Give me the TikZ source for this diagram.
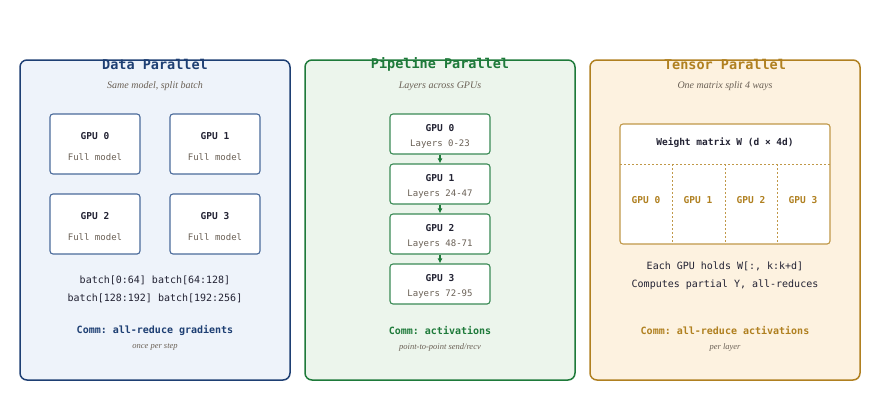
\documentclass[tikz,border=0pt]{standalone}
\usepackage{fontspec}
\usetikzlibrary{arrows.meta}
\setmainfont{Liberation Serif}
\setmonofont{DejaVu Sans Mono}
\begin{document}
\definecolor{bB}{HTML}{1E3F73}\definecolor{bF}{HTML}{EEF3FA}\definecolor{bI}{HTML}{4A6A9A}
\definecolor{gB}{HTML}{1E7A3A}\definecolor{gF}{HTML}{ECF5EC}\definecolor{gI}{HTML}{3A8A55}
\definecolor{oB}{HTML}{B08020}\definecolor{oF}{HTML}{FDF2E0}\definecolor{oI}{HTML}{C09848}
\definecolor{tx}{HTML}{222233}\definecolor{sub}{HTML}{6A6055}
\begin{tikzpicture}[x=1pt,y=-1pt,
 panel/.style={draw=#1,line width=1.5pt,rounded corners=7pt},
 title/.style={font=\ttfamily\bfseries\fontsize{13.5}{14}\selectfont},
 captxt/.style={font=\itshape\fontsize{10}{12}\selectfont,text=sub},
 foot/.style={font=\itshape\fontsize{8.5}{10}\selectfont,text=sub},
 comm/.style={font=\ttfamily\bfseries\fontsize{10}{12}\selectfont},
 body/.style={font=\ttfamily\fontsize{10}{12}\selectfont,text=tx},
 gpu/.style={draw=#1,fill=white,line width=1.1pt,rounded corners=3pt},
 gl/.style={font=\ttfamily\bfseries\fontsize{9.5}{11}\selectfont,text=tx},
 sl/.style={font=\ttfamily\fontsize{9}{11}\selectfont,text=sub}]
\useasboundingbox (0,0) rectangle (880,400);
% panels
\draw[panel=bB,fill=bF] (20,60) rectangle (290,380);
\draw[panel=gB,fill=gF] (305,60) rectangle (575,380);
\draw[panel=oB,fill=oF] (590,60) rectangle (860,380);
\node[title,text=bB] (t1) at (155,64) {Data Parallel};
\node[title,text=gB] (t2) at (440,64) {Pipeline Parallel};
\node[title,text=oB] (t3) at (725,64) {Tensor Parallel};
\node[captxt] (c1) at (155,86) {Same model, split batch};
\node[captxt] (c2) at (440,86) {Layers across GPUs};
\node[captxt] (c3) at (725,86) {One matrix split 4 ways};
% data
\foreach \i/\x/\y in {0/50/114,1/170/114,2/50/194,3/170/194}{
 \draw[gpu=bI] (\x,\y) rectangle ++(90,60);
 \node[gl] (d\i) at (\x+45,\y+22) {GPU \i};
 \node[sl] (ds\i) at (\x+45,\y+43) {Full model};}
\node[body] (b1) at (155,280) {batch[0:64] batch[64:128]};
\node[body] (b2) at (155,298) {batch[128:192] batch[192:256]};
\node[comm,text=bB] (cm1) at (155,330) {Comm: all-reduce gradients};
\node[foot] (f1) at (155,347) {once per step};
% pipeline
\foreach \i/\y/\l in {0/114/Layers 0-23,1/164/Layers 24-47,2/214/Layers 48-71,3/264/Layers 72-95}{
 \node[gpu=gI,minimum width=100pt,minimum height=40pt] (p\i) at (440,\y+20) {};
 \node[gl] at (440,\y+14) {GPU \i};
 \node[sl] at (440,\y+30) {\l};}
\foreach \a/\b in {0/1,1/2,2/3}
 \draw[gB,line width=1.5pt,-{Latex[length=5pt,width=5pt]}] (p\a.south) -- (p\b.north);
\node[comm,text=gB] (cm2) at (440,330) {Comm: activations};
\node[foot] (f2) at (440,347) {point-to-point send/recv};
% tensor
\node[gpu=oI,minimum width=210pt,minimum height=120pt] (m) at (725,184) {};
\node[gl] (mt) at (725,143) {Weight matrix W (d × 4d)};
\draw[oI,line width=1pt,dash pattern=on 2pt off 2pt] (620,164) -- (830,164);
\foreach \x in {672,725,777} \draw[oI,line width=1pt,dash pattern=on 2pt off 2pt] (\x,164) -- (\x,244);
\foreach \i/\x in {0/646,1/698,2/751,3/803} \node[gl,text=oB] (tg\i) at (\x,200) {GPU \i};
\node[body] (e1) at (725,266) {Each GPU holds W[:, k:k+d]};
\node[body] (e2) at (725,285) {Computes partial Y, all-reduces};
\node[comm,text=oB] (cm3) at (725,330) {Comm: all-reduce activations};
\node[foot] (f3) at (725,347) {per layer};
\end{tikzpicture}
\end{document}
